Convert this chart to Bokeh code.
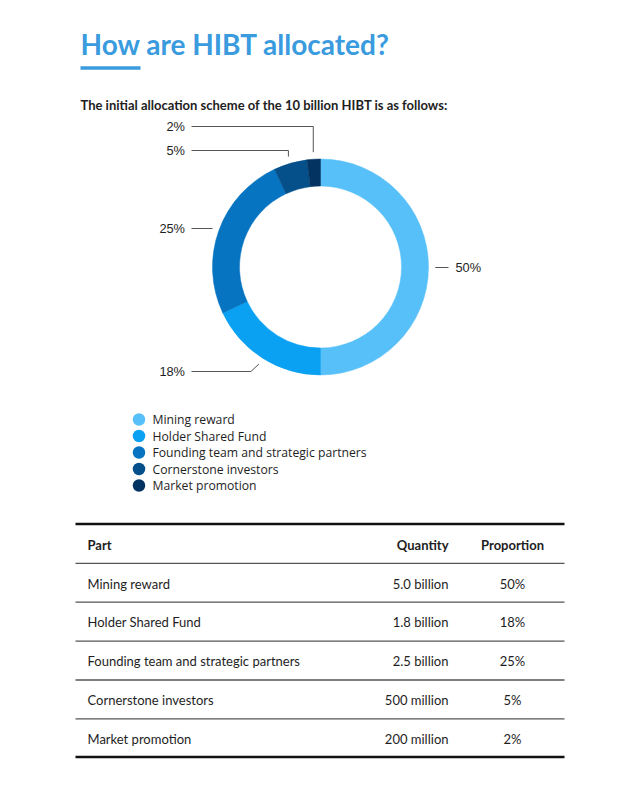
import math
from bokeh.plotting import figure
from bokeh.models import Range1d
from bokeh.embed import file_html
from bokeh.resources import INLINE
from bokeh.core.properties import value

# ---------------- data ----------------
categories = ["Mining reward", "Holder Shared Fund",
              "Founding team and strategic partners",
              "Cornerstone investors", "Market promotion"]
shares = [50, 18, 25, 5, 2]
quantities = ["5.0 billion", "1.8 billion", "2.5 billion", "500 million", "200 million"]
headers = ["Part", "Quantity", "Proportion"]
title_text = "How are HIBT allocated?"
subtitle_text = "The initial allocation scheme of the 10 billion HIBT is as follows:"
colors = ["#58C0F8", "#0AA1F3", "#0674C0", "#05508B", "#033361"]

# ---------------- layout ----------------
W, H = 624, 769
def Y(py):
    return 785 - py

p = figure(width=W, height=H, x_range=Range1d(0, 624), y_range=Range1d(16, 785),
           output_backend="svg", toolbar_location=None, min_border=0)
p.axis.visible = False
p.grid.visible = False
p.outline_line_color = None
p.background_fill_color = "white"

BLUE = "#3A9BDE"
DARK = "#1E1E1E"

# title + underline
p.text(x=[80], y=[Y(43)], text=[title_text], text_font=value("Lato"),
       text_font_style="bold", text_font_size="28px", text_color=BLUE,
       text_baseline="middle", text_align="left")
p.segment(x0=[80], y0=[Y(67.5)], x1=[140], y1=[Y(67.5)], line_color=BLUE, line_width=3.5)

p.text(x=[80], y=[Y(104.5)], text=[subtitle_text], text_font=value("Lato"),
       text_font_style="bold", text_font_size="13px", text_color=DARK,
       text_baseline="middle", text_align="left")

# donut
cx, cy = 320, Y(266.5)
r_in, r_out, r_lead = 81, 108, 115
total = float(sum(shares))
starts, ends, mids = [], [], []
cum = 0.0
for s in shares:
    a0 = math.pi / 2 - 2 * math.pi * cum / total
    cum += s
    a1 = math.pi / 2 - 2 * math.pi * cum / total
    starts.append(a0)
    ends.append(a1)
    mids.append((a0 + a1) / 2)

p.annular_wedge(x=[cx] * len(shares), y=[cy] * len(shares), inner_radius=r_in,
                outer_radius=r_out, start_angle=starts, end_angle=ends,
                direction="clock", fill_color=colors, line_color=colors, line_width=0.5)

# leader lines + labels
label_y = [267, 371, 228, 150, 126]
label_side = ["right", "left", "left", "left", "left"]
elbow_dx = [0, -8, 0, 0, 0]
xs, ys, tx, ty, tt, ta = [], [], [], [], [], []
for i, s in enumerate(shares):
    ax = cx + r_lead * math.cos(mids[i])
    ay = cy + r_lead * math.sin(mids[i])
    ly = Y(label_y[i])
    ex = ax + elbow_dx[i]
    if label_side[i] == "right":
        endx = 448
        tx.append(455); ta.append("left")
    else:
        endx = 191
        tx.append(184.5); ta.append("right")
    xs.append([ax, ex, endx])
    ys.append([ay, ly, ly])
    ty.append(ly)
    tt.append(f"{s}%")
p.multi_line(xs=xs, ys=ys, line_color="#555555", line_width=1)
for x_, y_, t_, a_ in zip(tx, ty, tt, ta):
    p.text(x=[x_], y=[y_], text=[t_], text_font=value("Liberation Sans"),
           text_font_size="12.8px", text_color=DARK, text_baseline="middle", text_align=a_)

# legend
leg_y = [Y(419 + 16.5 * i) for i in range(len(categories))]
p.scatter(x=[138.5] * len(categories), y=leg_y, size=12.5, marker="circle",
          fill_color=colors, line_color=None)
p.text(x=[152] * len(categories), y=leg_y, text=categories, text_font=value("Open Sans"),
       text_font_size="12.2px", text_color=DARK, text_baseline="middle", text_align="left")

# table
x_left, x_right = 75, 564
p.segment(x0=[x_left], y0=[Y(523.5)], x1=[x_right], y1=[Y(523.5)], line_color="#111111", line_width=2.5)
p.segment(x0=[x_left], y0=[Y(756.5)], x1=[x_right], y1=[Y(756.5)], line_color="#111111", line_width=2.5)
sep = [562.8, 601.7, 640.6, 679.5, 718.4]
p.segment(x0=[x_left] * len(sep), y0=[Y(v) for v in sep], x1=[x_right] * len(sep),
          y1=[Y(v) for v in sep], line_color="#555555", line_width=1.3)

hy = Y(544.5)
p.text(x=[87], y=[hy], text=[headers[0]], text_font=value("Lato"), text_font_style="bold",
       text_font_size="13px", text_color=DARK, text_baseline="middle", text_align="left")
p.text(x=[448], y=[hy], text=[headers[1]], text_font=value("Lato"), text_font_style="bold",
       text_font_size="13px", text_color=DARK, text_baseline="middle", text_align="right")
p.text(x=[512], y=[hy], text=[headers[2]], text_font=value("Lato"), text_font_style="bold",
       text_font_size="13px", text_color=DARK, text_baseline="middle", text_align="center")

row_y = [Y(583 + 38.9 * i) for i in range(len(categories))]
p.text(x=[87] * len(categories), y=row_y, text=categories, text_font=value("Lato"),
       text_font_size="13px", text_color=DARK, text_baseline="middle", text_align="left")
p.text(x=[448] * len(categories), y=row_y, text=quantities, text_font=value("Lato"),
       text_font_size="13px", text_color=DARK, text_baseline="middle", text_align="right")
p.text(x=[512] * len(categories), y=row_y, text=[f"{s}%" for s in shares], text_font=value("Lato"),
       text_font_size="13px", text_color=DARK, text_baseline="middle", text_align="center")

open("out.html", "w").write(file_html(p, INLINE))
